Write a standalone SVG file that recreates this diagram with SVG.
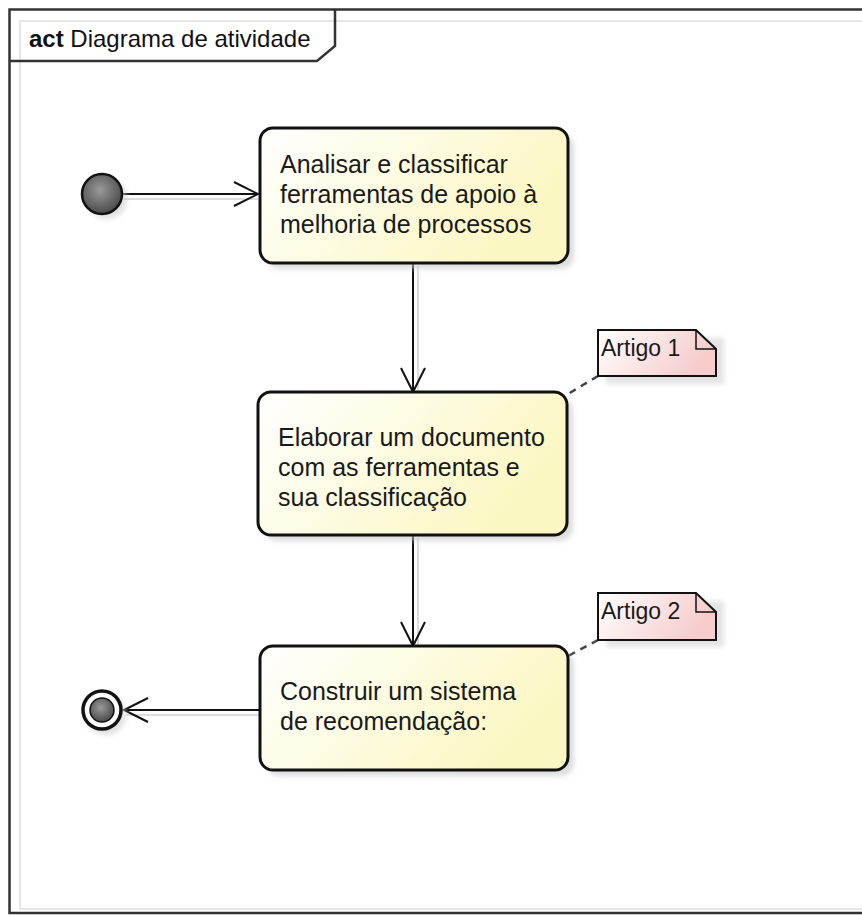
<svg xmlns="http://www.w3.org/2000/svg" width="862" height="916" viewBox="0 0 862 916">
<style>
  .t { font-family: "Liberation Sans", Arial, sans-serif; font-size: 25px; fill: #1a1a1a; }
  .nt { font-family: "Liberation Sans", Arial, sans-serif; font-size: 23px; fill: #1a1a1a; }
  .box { fill: url(#boxg); stroke: #111; stroke-width: 3; }
  .shadow { fill: #c8c8c8; opacity: 0.6; filter: url(#blur); }
  .edge { fill: none; stroke: #111; stroke-width: 2; }
  .edgeshadow { fill: none; stroke: #ddd; stroke-width: 2; }
  .note { fill: url(#noteg); stroke: #111; stroke-width: 2; }
  .dash { fill: none; stroke: #444; stroke-width: 2.5; stroke-dasharray: 7 6; }
</style>
<defs>
  <linearGradient id="boxg" x1="0" y1="0" x2="1" y2="0.4">
    <stop offset="0" stop-color="#ffffff"/>
    <stop offset="1" stop-color="#fbf7c2"/>
  </linearGradient>
  <linearGradient id="noteg" x1="0" y1="0" x2="1" y2="0.3">
    <stop offset="0" stop-color="#ffffff"/>
    <stop offset="1" stop-color="#f6cccc"/>
  </linearGradient>
  <radialGradient id="ballg" cx="0.45" cy="0.4" r="0.6">
    <stop offset="0" stop-color="#9a9a9a"/>
    <stop offset="1" stop-color="#4a4a4a"/>
  </radialGradient>
  <filter id="blur" x="-10%" y="-10%" width="130%" height="130%">
    <feGaussianBlur stdDeviation="2.5"/>
  </filter>
</defs>

<!-- frame -->
<g id="frame">
  <rect x="20" y="21" width="860" height="888" fill="none" stroke="#e6e6e6" stroke-width="2"/>
  <rect x="9.5" y="9.5" width="880" height="903.5" fill="none" stroke="#333" stroke-width="2.5"/>
  <path d="M9.5,61 H317 L335,46 V9.5" fill="none" stroke="#333" stroke-width="2.5"/>
  <text x="29" y="47" font-family="Liberation Sans, Arial, sans-serif" font-size="24" fill="#111"><tspan font-weight="bold">act</tspan> Diagrama de atividade</text>
</g>

<!-- connectors -->
<g id="connectors">
  <line class="edgeshadow" x1="124" y1="199" x2="258" y2="199"/>
  <line class="edge" x1="122" y1="194" x2="258" y2="194"/>
  <polyline class="edge" points="234,182 258,194 234,206"/>

  <line class="edgeshadow" x1="418" y1="266" x2="418" y2="392"/>
  <line class="edge" x1="413" y1="264" x2="413" y2="392"/>
  <polyline class="edge" points="401,368 413,392 425,368"/>

  <line class="edgeshadow" x1="418" y1="538" x2="418" y2="646"/>
  <line class="edge" x1="413" y1="536" x2="413" y2="646"/>
  <polyline class="edge" points="401,622 413,646 425,622"/>

  <line class="edgeshadow" x1="126" y1="715" x2="259" y2="715"/>
  <line class="edge" x1="259" y1="710" x2="124" y2="710"/>
  <polyline class="edge" points="148,698 124,710 148,722"/>

  <line class="dash" x1="598" y1="376" x2="568" y2="394"/>
  <line class="dash" x1="598" y1="640" x2="568" y2="656"/>
</g>

<!-- initial node -->
<g id="initial">
  <circle cx="107" cy="199" r="20" fill="#ccc" opacity="0.6" filter="url(#blur)"/>
  <circle cx="102" cy="194" r="20" fill="url(#ballg)" stroke="#111" stroke-width="2.5"/>
</g>

<!-- activity 1 -->
<g id="act1">
  <rect class="shadow" x="266" y="134" width="308" height="135" rx="13"/>
  <rect class="box" x="260" y="128" width="308" height="135" rx="13"/>
  <text class="t" x="280" y="173">Analisar e classificar</text>
  <text class="t" x="280" y="203">ferramentas de apoio à</text>
  <text class="t" x="280" y="233">melhoria de processos</text>
</g>

<!-- activity 2 -->
<g id="act2">
  <rect class="shadow" x="264" y="398" width="309" height="143" rx="13"/>
  <rect class="box" x="258" y="392" width="309" height="143" rx="13"/>
  <text class="t" x="278" y="446">Elaborar um documento</text>
  <text class="t" x="278" y="476">com as ferramentas e</text>
  <text class="t" x="278" y="506">sua classificação</text>
</g>

<!-- activity 3 -->
<g id="act3">
  <rect class="shadow" x="266" y="652" width="308" height="124" rx="13"/>
  <rect class="box" x="260" y="646" width="308" height="124" rx="13"/>
  <text class="t" x="280" y="700">Construir um sistema</text>
  <text class="t" x="280" y="730">de recomendação:</text>
</g>

<!-- note 1 -->
<g id="note1">
  <rect x="606" y="338" width="118" height="46" fill="#d8d8d8" opacity="0.7" filter="url(#blur)"/>
  <path class="note" d="M598,330 H696 L716,349 V376 H598 Z"/>
  <path d="M696,330 V349 H716" fill="none" stroke="#111" stroke-width="1.5"/>
  <text class="nt" x="601" y="356">Artigo 1</text>
</g>

<!-- note 2 -->
<g id="note2">
  <rect x="606" y="601" width="118" height="46" fill="#d8d8d8" opacity="0.7" filter="url(#blur)"/>
  <path class="note" d="M598,593 H696 L716,612 V640 H598 Z"/>
  <path d="M696,593 V612 H716" fill="none" stroke="#111" stroke-width="1.5"/>
  <text class="nt" x="601" y="619">Artigo 2</text>
</g>

<!-- final node -->
<g id="final">
  <circle cx="106" cy="715" r="20" fill="#ccc" opacity="0.6" filter="url(#blur)"/>
  <circle cx="102" cy="710" r="19" fill="#fff" stroke="#111" stroke-width="3.5"/>
  <circle cx="102" cy="710" r="12" fill="url(#ballg)" stroke="#111" stroke-width="1.5"/>
</g>
</svg>
